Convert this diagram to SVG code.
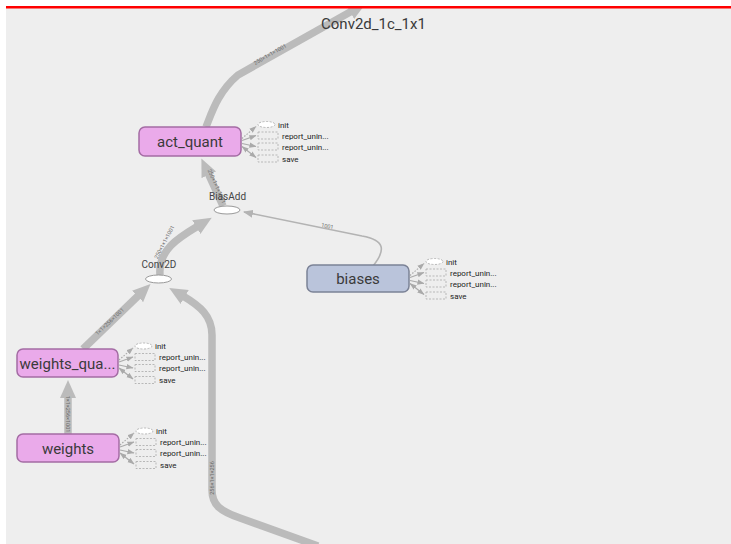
<svg xmlns="http://www.w3.org/2000/svg" width="731" height="544" viewBox="0 0 731 544">
<style>
.node rect.main{stroke-width:1.5}
.op{fill:#eaaaea;stroke:#a46ca4}
.var{fill:#bac4db;stroke:#7b8296}
.name{font-family:Roboto,"Liberation Sans",sans-serif;font-size:15px;fill:#3a3a3a;text-anchor:middle}
.oplbl{font-family:Roboto,"Liberation Sans",sans-serif;font-size:10px;fill:#444;text-anchor:middle}
.small{font-family:Roboto,"Liberation Sans",sans-serif;font-size:8px;fill:#222}
.ell{fill:#fff;stroke:#999;stroke-width:1}
.aux{fill:none;stroke:#aaa;stroke-width:0.8;stroke-dasharray:2 1.5}
.auxe{fill:#fff;stroke:#aaa;stroke-width:0.8;stroke-dasharray:2 1.5}
.al{fill:none;stroke:#aaa;stroke-width:1.2}
.thick{fill:none;stroke:#bbb;stroke-width:7.5}
.thin{fill:none;stroke:#b3b3b3;stroke-width:1.6}
.elbl{font-family:Roboto,"Liberation Sans",sans-serif;font-size:5.5px;fill:#6a6a6a;text-anchor:middle}
</style>
<defs>
<clipPath id="area"><rect x="6" y="8" width="725" height="536"/></clipPath>
<marker id="big" viewBox="0 0 18 16" markerWidth="18" markerHeight="16" markerUnits="userSpaceOnUse" refX="2" refY="8" orient="auto"><path d="M0,0 L18,8 L0,16 z" fill="#bbb"/></marker>
<marker id="mid" viewBox="0 0 10 8" markerWidth="10" markerHeight="8" markerUnits="userSpaceOnUse" refX="9" refY="4" orient="auto"><path d="M0,0 L10,4 L0,8 z" fill="#b3b3b3"/></marker>
<marker id="sm" viewBox="0 0 8 6" markerWidth="7" markerHeight="6" markerUnits="userSpaceOnUse" refX="7.5" refY="3" orient="auto-start-reverse"><path d="M0,0 L8,3 L0,6 z" fill="#aaa"/></marker>
</defs>
<rect x="0" y="0" width="731" height="544" fill="#fff"/>
<rect x="6" y="8" width="725" height="536" fill="#eeeeee"/>
<g clip-path="url(#area)">
<g id="connectors">
<path class="thick" d="M206 127 C212 112 218 92 238 75 L352 11" marker-end="url(#big)"/>
<text class="elbl" transform="translate(271,56) rotate(-30)">250×1×1×1001</text>
<path class="thick" d="M223 206 L208 173" marker-end="url(#big)"/>
<text class="elbl" transform="translate(215,187) rotate(66)">250×1×1×1001</text>
<path class="thick" d="M160 275 C158 250 178 238 198 226" marker-end="url(#big)"/>
<text class="elbl" transform="translate(166,243) rotate(-62)">250×1×1×1001</text>
<path class="thin" d="M373 266 C386 250 385 240 362 236 L244 212" marker-end="url(#mid)"/>
<text class="elbl" transform="translate(327,228) rotate(11)">1001</text>
<path class="thick" d="M83 349 L139 295" marker-end="url(#big)"/>
<text class="elbl" transform="translate(111,323) rotate(-43)">1×1×256×1001</text>
<path class="thick" d="M318 546 L240 518 C220 511 212 505 212 490 L212 335 C212 316 200 306 183 296" marker-end="url(#big)"/>
<text class="elbl" transform="translate(214,478) rotate(-90)">256×1×1×256</text>
<path class="thick" d="M68 434 L68 396" marker-end="url(#big)"/>
<text class="elbl" transform="translate(66,414) rotate(90)">1×1×256×1001</text>
</g>
<g id="act_quant" class="node">
<rect class="main op" x="139" y="127" width="102" height="29" rx="6"/>
<text class="name" x="190" y="147">act_quant</text>
<g transform="translate(241,141.5)">
<path class="al" d="M1,-3 L15,-15" stroke-dasharray="1.5 1.5" marker-end="url(#sm)"/>
<path class="al" d="M1,-1 L15,-6" marker-end="url(#sm)"/>
<path class="al" d="M1,2 L15,5" marker-end="url(#sm)"/>
<path class="al" d="M1,5 L15,16" marker-start="url(#sm)" marker-end="url(#sm)"/>
<ellipse class="auxe" cx="25.5" cy="-17" rx="8.5" ry="3"/>
<text class="small" x="37" y="-14">init</text>
<rect class="aux" x="17" y="-9.5" width="20" height="7"/>
<text class="small" x="41" y="-3">report_unin...</text>
<rect class="aux" x="17" y="1.5" width="20" height="7"/>
<text class="small" x="41" y="8">report_unin...</text>
<rect class="aux" x="17" y="13.5" width="20" height="7"/>
<text class="small" x="41" y="20">save</text>
</g>
</g>
<g id="BiasAdd" class="node">
<ellipse class="ell" cx="227" cy="210" rx="13" ry="4"/>
<text class="oplbl" x="227.5" y="200">BiasAdd</text>
</g>
<g id="Conv2D" class="node">
<ellipse class="ell" cx="158.5" cy="279" rx="13" ry="4"/>
<text class="oplbl" x="159" y="268">Conv2D</text>
</g>
<g id="biases" class="node">
<rect class="main var" x="307" y="265" width="102" height="27" rx="6"/>
<text class="name" x="358" y="284">biases</text>
<g transform="translate(409,278.5)">
<path class="al" d="M1,-3 L15,-15" stroke-dasharray="1.5 1.5" marker-end="url(#sm)"/>
<path class="al" d="M1,-1 L15,-6" marker-end="url(#sm)"/>
<path class="al" d="M1,2 L15,5" marker-end="url(#sm)"/>
<path class="al" d="M1,5 L15,16" marker-start="url(#sm)" marker-end="url(#sm)"/>
<ellipse class="auxe" cx="25.5" cy="-17" rx="8.5" ry="3"/>
<text class="small" x="37" y="-14">init</text>
<rect class="aux" x="17" y="-9.5" width="20" height="7"/>
<text class="small" x="41" y="-3">report_unin...</text>
<rect class="aux" x="17" y="1.5" width="20" height="7"/>
<text class="small" x="41" y="8">report_unin...</text>
<rect class="aux" x="17" y="13.5" width="20" height="7"/>
<text class="small" x="41" y="20">save</text>
</g>
</g>
<g id="weights_quant" class="node">
<rect class="main op" x="17" y="349" width="101" height="28" rx="6"/>
<text class="name" x="67.5" y="368.5" font-size="14">weights_qua...</text>
<g transform="translate(118,363)">
<path class="al" d="M1,-3 L15,-15" stroke-dasharray="1.5 1.5" marker-end="url(#sm)"/>
<path class="al" d="M1,-1 L15,-6" marker-end="url(#sm)"/>
<path class="al" d="M1,2 L15,5" marker-end="url(#sm)"/>
<path class="al" d="M1,5 L15,16" marker-start="url(#sm)" marker-end="url(#sm)"/>
<ellipse class="auxe" cx="25.5" cy="-17" rx="8.5" ry="3"/>
<text class="small" x="37" y="-14">init</text>
<rect class="aux" x="17" y="-9.5" width="20" height="7"/>
<text class="small" x="41" y="-3">report_unin...</text>
<rect class="aux" x="17" y="1.5" width="20" height="7"/>
<text class="small" x="41" y="8">report_unin...</text>
<rect class="aux" x="17" y="13.5" width="20" height="7"/>
<text class="small" x="41" y="20">save</text>
</g>
</g>
<g id="weights" class="node">
<rect class="main op" x="17" y="434" width="102" height="28" rx="6"/>
<text class="name" x="68" y="453.5">weights</text>
<g transform="translate(119,448)">
<path class="al" d="M1,-3 L15,-15" stroke-dasharray="1.5 1.5" marker-end="url(#sm)"/>
<path class="al" d="M1,-1 L15,-6" marker-end="url(#sm)"/>
<path class="al" d="M1,2 L15,5" marker-end="url(#sm)"/>
<path class="al" d="M1,5 L15,16" marker-start="url(#sm)" marker-end="url(#sm)"/>
<ellipse class="auxe" cx="25.5" cy="-17" rx="8.5" ry="3"/>
<text class="small" x="37" y="-14">init</text>
<rect class="aux" x="17" y="-9.5" width="20" height="7"/>
<text class="small" x="41" y="-3">report_unin...</text>
<rect class="aux" x="17" y="1.5" width="20" height="7"/>
<text class="small" x="41" y="8">report_unin...</text>
<rect class="aux" x="17" y="13.5" width="20" height="7"/>
<text class="small" x="41" y="20">save</text>
</g>
</g>
<text class="name" x="373.5" y="29" font-size="14.5">Conv2d_1c_1x1</text>
</g>
<rect x="6" y="6" width="725" height="2.5" fill="#ff0000"/>
</svg>
